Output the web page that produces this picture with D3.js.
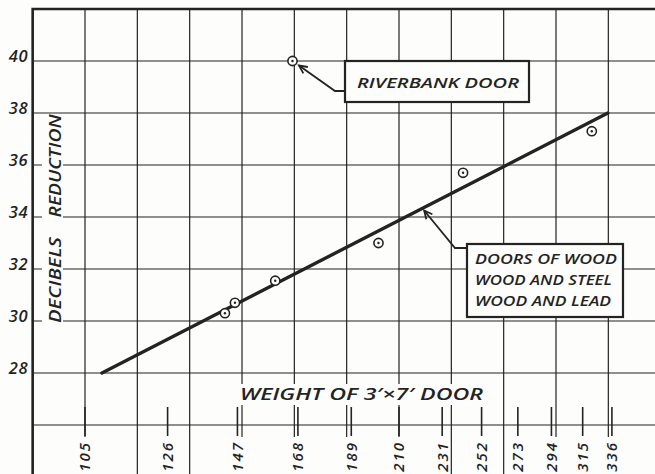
<!DOCTYPE html>
<html>
<head>
<meta charset="utf-8">
<script src="https://cdn.jsdelivr.net/npm/d3@7"></script>
<style>
  html, body { margin: 0; padding: 0; background: #fdfdfb; }
  svg { display: block; }
  text { font-family: "Open Sans", "DejaVu Sans", sans-serif; font-style: italic; font-weight: 600; fill: #232323; }
</style>
</head>
<body>
<svg id="chart" width="655" height="474"></svg>
<script>
// Door weight (lb) on the tick strip along the bottom
const weightTicks = [105, 126, 147, 168, 189, 210, 231, 252, 273, 294, 315, 336];
// Sound reduction (dB) labels on the left
const dbTicks = [28, 30, 32, 34, 36, 38, 40];

// Measured doors: wood, wood and steel, wood and lead
const doorWeights = [143, 146.2, 159.8, 200.7, 241.9, 321.4];
const doorDb = [30.3, 30.7, 31.55, 33.0, 35.7, 37.3];

// The Riverbank door, plotted on its own
const riverbankWeight = [166];
const riverbankDb = [40];

// Trend line through the measured doors
const fitWeights = [109, 333];
const fitDb = [28, 38];

const ink = "#232323";
const paper = "#fdfdfb";
const W = 655, H = 474;
const svg = d3.select("#chart");

// Weight runs on a logarithmic scale (six grid columns per doubling),
// decibels on a linear one.
const x = d3.scaleLog().domain([105, 210]).range([85, 399]);
const y = d3.scaleLinear().domain([28, 40]).range([373, 61]);

const frameLeft = x(105 / Math.pow(2, 1 / 6));
const frameTop = y(42);
const labelTop = 441;

// ---- grid ----
const gridCols = d3.range(0, 12).map(k => 105 * Math.pow(2, k / 6));
const gridRows = d3.range(26, 41, 2);
// a column that runs into a weight label stops above it
const hitsLabel = v => weightTicks.some(t => Math.abs(x(t) - x(v)) < 6);

const grid = svg.append("g").attr("stroke", ink).attr("stroke-width", 1.2);
grid.selectAll("line.v").data(gridCols).join("line")
  .attr("class", "v")
  .attr("x1", d => x(d)).attr("x2", d => x(d))
  .attr("y1", frameTop).attr("y2", d => hitsLabel(d) ? labelTop - 4 : H);
grid.selectAll("line.h").data(gridRows).join("line")
  .attr("class", "h")
  .attr("x1", frameLeft).attr("x2", W)
  .attr("y1", d => y(d)).attr("y2", d => y(d));

// frame (left and top edges)
svg.append("path")
  .attr("d", `M${frameLeft},${H} L${frameLeft},${frameTop} L${W},${frameTop}`)
  .attr("fill", "none").attr("stroke", ink).attr("stroke-width", 2.6);

// ---- y axis labels ----
svg.append("g").selectAll("text").data(dbTicks).join("text")
  .attr("x", 28).attr("y", d => y(d) + 1)
  .attr("text-anchor", "end")
  .attr("font-size", 16.5).attr("font-weight", 700)
  .attr("letter-spacing", 0.5)
  .text(d => d);

// clear a strip for the axis title
svg.append("rect").attr("x", 42).attr("y", 118).attr("width", 21).attr("height", 208)
  .attr("fill", paper);
const yTitle = [
  { t: "DECIBELS", c: 280, len: 86 },
  { t: "REDUCTION", c: 166, len: 103 }
];
svg.append("g").selectAll("text").data(yTitle).join("text")
  .attr("transform", d => `translate(61,${d.c}) rotate(-90)`)
  .attr("text-anchor", "middle")
  .attr("font-size", 16)
  .attr("textLength", d => d.len).attr("lengthAdjust", "spacingAndGlyphs")
  .text(d => d.t);

// ---- weight title and tick strip ----
svg.append("rect").attr("x", 236).attr("y", 384).attr("width", 252).attr("height", 21)
  .attr("fill", paper);
svg.append("text")
  .attr("x", 240).attr("y", 400)
  .attr("font-size", 16)
  .attr("textLength", 243).attr("lengthAdjust", "spacingAndGlyphs")
  .text("WEIGHT  OF  3\u2032\u00D77\u2032  DOOR");

const tickG = svg.append("g");
tickG.selectAll("line").data(weightTicks).join("line")
  .attr("x1", d => x(d)).attr("x2", d => x(d))
  .attr("y1", 407).attr("y2", 436)
  .attr("stroke", ink).attr("stroke-width", 1.6);
tickG.selectAll("text").data(weightTicks).join("text")
  .attr("transform", d => `translate(${x(d)},${labelTop}) rotate(-90)`)
  .attr("text-anchor", "end")
  .attr("dy", "0.36em")
  .attr("font-size", 15).attr("font-weight", 700)
  .attr("letter-spacing", 2)
  .text(d => d);

// ---- trend line ----
const fit = fitWeights.map((w, i) => [w, fitDb[i]]);
svg.append("path")
  .datum(fit)
  .attr("d", d3.line().x(d => x(d[0])).y(d => y(d[1])))
  .attr("fill", "none").attr("stroke", ink).attr("stroke-width", 3.4)
  .attr("stroke-linecap", "round");

// ---- measured points ----
function drawMarkers(ws, ds) {
  const pts = ws.map((w, i) => [w, ds[i]]);
  const g = svg.append("g");
  g.selectAll("circle.o").data(pts).join("circle")
    .attr("class", "o")
    .attr("cx", d => x(d[0])).attr("cy", d => y(d[1])).attr("r", 4.6)
    .attr("fill", paper).attr("stroke", ink).attr("stroke-width", 1.6);
  g.selectAll("circle.c").data(pts).join("circle")
    .attr("class", "c")
    .attr("cx", d => x(d[0])).attr("cy", d => y(d[1])).attr("r", 1.2)
    .attr("fill", ink);
}
drawMarkers(doorWeights, doorDb);
drawMarkers(riverbankWeight, riverbankDb);

// ---- callouts ----
function arrowHead(tx, ty, fromX, fromY) {
  const a = Math.atan2(fromY - ty, fromX - tx);
  const len = 9, spread = 0.45;
  const p1 = [tx + len * Math.cos(a - spread), ty + len * Math.sin(a - spread)];
  const p2 = [tx + len * Math.cos(a + spread), ty + len * Math.sin(a + spread)];
  return `M${p1[0]},${p1[1]} L${tx},${ty} L${p2[0]},${p2[1]}`;
}
function callout(tip, elbow, boxX, boxY, boxW, boxH, lines, lineY, textX, lens, fs) {
  const g = svg.append("g");
  g.append("path")
    .attr("d", `M${boxX},${elbow[1]} L${elbow[0]},${elbow[1]} L${tip[0]},${tip[1]}`)
    .attr("fill", "none").attr("stroke", ink).attr("stroke-width", 1.8);
  g.append("path")
    .attr("d", arrowHead(tip[0], tip[1], elbow[0], elbow[1]))
    .attr("fill", "none").attr("stroke", ink).attr("stroke-width", 1.8);
  g.append("rect")
    .attr("x", boxX).attr("y", boxY).attr("width", boxW).attr("height", boxH)
    .attr("fill", paper).attr("stroke", ink).attr("stroke-width", 2.2);
  g.selectAll("text").data(lines).join("text")
    .attr("x", textX).attr("y", (d, i) => lineY[i])
    .attr("font-size", fs)
    .attr("textLength", (d, i) => lens[i]).attr("lengthAdjust", "spacingAndGlyphs")
    .text(d => d);
}

// Riverbank door callout: arrow ends just off the marker
const rb = [x(riverbankWeight[0]) + 6.5, y(riverbankDb[0]) + 4.5];
callout(rb, [335, 91], 345, 61, 184, 41,
  ["RIVERBANK  DOOR"], [87.5], 357, [162], 15);

// Trend line callout: arrow ends just below the line
const tipW = 222, tipDb = 34.25;
callout([x(tipW), y(tipDb)], [455, 248], 467, 244, 156, 73,
  ["DOORS  OF  WOOD", "WOOD  AND  STEEL", "WOOD  AND  LEAD"],
  [264, 285, 306], 475, [142, 137, 136], 14);
</script>
</body>
</html>
